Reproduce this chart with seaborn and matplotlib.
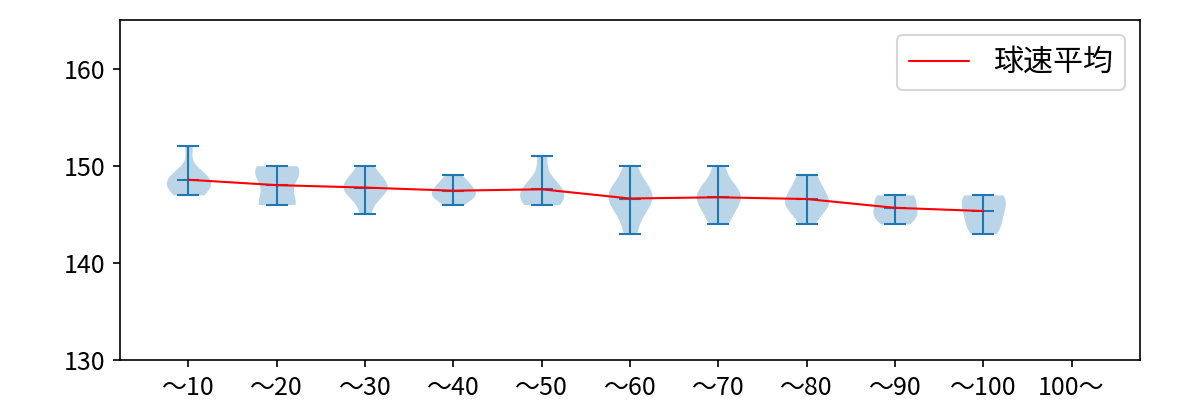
import numpy as np
import pandas as pd
import matplotlib
matplotlib.use("Agg")
import matplotlib.pyplot as plt
import seaborn as sns

categories = ["～10", "～20", "～30", "～40", "～50", "～60", "～70", "～80", "～90", "～100", "100～"]

speeds_10 = [147, 147, 148, 148, 148, 149, 149, 149, 152]
speeds_20 = [146, 146, 146, 149, 149, 150, 150]
speeds_30 = [145, 147, 147, 148, 148, 148, 149, 150]
speeds_40 = [146, 147, 147, 147, 148, 148, 149]
speeds_50 = [146, 146, 147, 147, 148, 148, 151]
speeds_60 = [143, 145, 146, 147, 147, 147, 148, 150]
speeds_70 = [144, 145, 146, 147, 147, 147, 148, 150]
speeds_80 = [144, 146, 146, 146, 147, 148, 149]
speeds_90 = [144, 145, 145, 146, 147, 147]
speeds_100 = [143, 144, 145, 146, 147, 147]

groups = [speeds_10, speeds_20, speeds_30, speeds_40, speeds_50,
          speeds_60, speeds_70, speeds_80, speeds_90, speeds_100]

rows = []
for cat, vals in zip(categories, groups):
    for v in vals:
        rows.append({"bin": cat, "speed": v})
df = pd.DataFrame(rows)

sns.set_style("ticks")
plt.rcParams["font.family"] = ["Noto Sans CJK JP", "DejaVu Sans"]
plt.rcParams["font.size"] = 12
plt.rcParams["text.color"] = "black"
plt.rcParams["axes.labelcolor"] = "black"
plt.rcParams["xtick.color"] = "black"
plt.rcParams["ytick.color"] = "black"

fig, ax = plt.subplots(figsize=(8, 8 / 3), dpi=150)
fig.subplots_adjust(left=0.1, right=0.95, top=0.95, bottom=0.1)

blue = "#1f77b4"
sns.violinplot(data=df, x="bin", y="speed", order=categories, ax=ax,
               inner=None, cut=0, density_norm="width", width=0.5,
               color=blue, saturation=1, linewidth=0, alpha=0.3)

pos = np.arange(len(groups))
mins = np.array([min(g) for g in groups])
maxs = np.array([max(g) for g in groups])
means = np.array([np.mean(g) for g in groups])

ax.vlines(pos, mins, maxs, color=blue, linewidth=1)
ax.hlines(mins, pos - 0.125, pos + 0.125, color=blue, linewidth=1)
ax.hlines(maxs, pos - 0.125, pos + 0.125, color=blue, linewidth=1)
ax.hlines(means, pos - 0.125, pos + 0.125, color=blue, linewidth=1)

ax.plot(pos, means, color="red", linewidth=1, label="球速平均")

ax.set_xlim(-0.775, 10.775)
ax.set_ylim(130, 165)
ax.set_yticks([130, 140, 150, 160])
ax.set_xlabel("")
ax.set_ylabel("")
ax.tick_params(labelsize=12, colors="black")
for s in ax.spines.values():
    s.set_visible(True)
    s.set_color("black")
    s.set_linewidth(0.8)
leg = ax.legend(loc="upper right", fontsize="large")
for t in leg.get_texts():
    t.set_color("black")

fig.savefig("out.png", dpi=150)
